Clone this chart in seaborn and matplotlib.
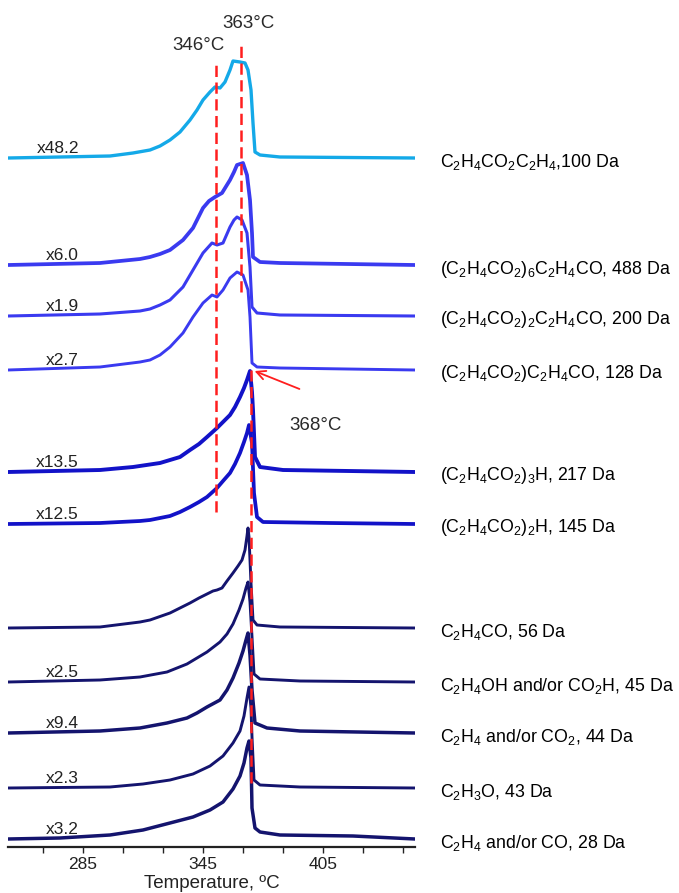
import matplotlib
matplotlib.use("Agg")
import matplotlib.pyplot as plt
import seaborn as sns
import pandas as pd

# ---------------- data ----------------
ion_labels = [
    r"C$_2$H$_4$CO$_2$C$_2$H$_4$,100 Da",
    r"(C$_2$H$_4$CO$_2$)$_6$C$_2$H$_4$CO, 488 Da",
    r"(C$_2$H$_4$CO$_2$)$_2$C$_2$H$_4$CO, 200 Da",
    r"(C$_2$H$_4$CO$_2$)C$_2$H$_4$CO, 128 Da",
    r"(C$_2$H$_4$CO$_2$)$_3$H, 217 Da",
    r"(C$_2$H$_4$CO$_2$)$_2$H, 145 Da",
    r"C$_2$H$_4$CO, 56 Da",
    r"C$_2$H$_4$OH and/or CO$_2$H, 45 Da",
    r"C$_2$H$_4$ and/or CO$_2$, 44 Da",
    r"C$_2$H$_3$O, 43 Da",
    r"C$_2$H$_4$ and/or CO, 28 Da",
]
multipliers = ["x48.2", "x6.0", "x1.9", "x2.7", "x13.5", "x12.5", "",
               "x2.5", "x9.4", "x2.3", "x3.2"]

temp_100 = [247.5, 273.5, 298.5, 310, 318.5, 323.5, 328.5, 333.5, 338.5, 342, 345, 348.5, 351, 353.5, 356, 358.5, 360, 363.5, 366, 367.5, 369, 370, 371, 373.5, 383.5, 451]
sig_100 = [0, 1, 2, 5, 8, 12, 18, 26, 38, 48, 58, 66, 71, 70, 76, 88, 97, 96, 95, 88, 68, 35, 6, 3, 1, 0]

temp_488 = [247.5, 293.5, 313.5, 318.5, 323.5, 328.5, 335, 340, 342.5, 345, 348, 351, 354.5, 358.5, 360.5, 362, 365, 367, 368.5, 369.5, 370, 373.5, 383.5, 451]
sig_488 = [0, 2, 6, 8, 11, 15, 25, 37, 47, 57, 64, 68, 72, 85, 93, 100, 102, 90, 65, 32, 8, 3, 2, 0]

temp_200 = [247.5, 293.5, 313.5, 318.5, 323.5, 328.5, 335, 340, 345, 349.5, 352, 355, 358.5, 360.5, 362, 364.5, 367, 368.5, 369.5, 372, 383.5, 451]
sig_200 = [0, 2, 5, 7, 11, 16, 29, 46, 63, 73, 71, 73, 89, 96, 99, 96, 83, 49, 9, 3, 1, 0]

temp_128 = [247.5, 293.5, 313.5, 318.5, 323.5, 328.5, 335, 340, 345, 349.5, 352, 355, 358.5, 362, 365, 367.5, 368.5, 369.5, 372, 383.5, 451]
sig_128 = [0, 3, 8, 10, 15, 23, 37, 53, 67, 75, 73, 80, 92, 98, 95, 80, 53, 7, 3, 2, 0]

temp_217 = [247.5, 293.5, 310, 323.5, 333.5, 338.5, 343, 347, 352, 355, 358.5, 361, 363.5, 365.5, 367, 368.5, 369.5, 370, 371, 373.5, 385, 451]
sig_217 = [0, 2, 5, 9, 15, 22, 28, 35, 44, 50, 57, 65, 75, 84, 92, 101, 80, 62, 15, 5, 2, 0]

temp_145 = [247.5, 293.5, 313.5, 318.5, 328.5, 333.5, 338.5, 343, 347, 352, 355, 358.5, 361, 363.5, 365.5, 367, 368, 369.5, 370.5, 372, 375, 408.5, 451]
sig_145 = [0, 1, 3, 4, 8, 12, 17, 22, 27, 36, 43, 51, 60, 71, 82, 91, 99, 81, 31, 7, 2, 1, 0]

temp_56 = [247.5, 293.5, 313.5, 318.5, 328.5, 338.5, 343, 347, 350, 352, 354.5, 357, 360, 362.5, 364.5, 366, 367, 367.5, 368, 369, 370, 372, 383.5, 451]
sig_56 = [0, 1, 6, 8, 15, 25, 30, 34, 37, 38, 40, 47, 55, 62, 68, 78, 92, 100, 91, 45, 8, 3, 1, 0]

temp_45 = [247.5, 293.5, 313.5, 327, 337, 342, 347, 353.5, 357, 360, 363, 365, 366.5, 367.5, 368.5, 369.5, 370.5, 373.5, 393.5, 451]
sig_45 = [0, 2, 5, 10, 18, 24, 30, 40, 48, 58, 72, 83, 94, 100, 80, 45, 8, 3, 1, 0]

temp_44 = [247.5, 293.5, 313.5, 327, 337, 342, 347, 353.5, 357, 360, 363, 365, 366.5, 367.5, 368.5, 369.5, 371, 377, 393.5, 451]
sig_44 = [0, 2, 5, 10, 15, 20, 26, 33, 43, 55, 70, 82, 93, 100, 78, 43, 10, 5, 2, 0]

temp_43 = [247.5, 298.5, 315, 328.5, 340, 348.5, 355, 360, 363.5, 365.5, 367, 368, 369, 369.5, 370.5, 373.5, 393.5, 451]
sig_43 = [0, 1, 4, 8, 14, 22, 32, 45, 57, 72, 90, 101, 80, 51, 8, 3, 1, 0]

temp_28 = [247.5, 273.5, 298.5, 315, 328.5, 340, 348.5, 355, 360, 363.5, 365.5, 367, 368, 369, 369.5, 371, 373.5, 383.5, 420, 451]
sig_28 = [0, 1, 4, 9, 16, 22, 29, 37, 50, 63, 76, 91, 98, 81, 31, 11, 7, 4, 3, 0]

peak_labels = ["346°C", "363°C", "368°C"]
peak_line_temps = [351.5, 364, 369]

x_ticks = [265, 285, 305, 325, 345, 365, 385, 405, 425, 445]
x_ticklabels = ["", "285", "", "", "345", "", "", "405", "", ""]

temps = [temp_100, temp_488, temp_200, temp_128, temp_217, temp_145,
         temp_56, temp_45, temp_44, temp_43, temp_28]
sigs = [sig_100, sig_488, sig_200, sig_128, sig_217, sig_145,
        sig_56, sig_45, sig_44, sig_43, sig_28]

# ---------------- layout / style ----------------
offsets = [689, 582, 531, 477, 375, 323, 219, 165, 114, 59, 8]
colors = ["#14A9E8", "#3A3AF0", "#3A3AF0", "#3A3AF0", "#1212C8", "#1212C8",
          "#14146E", "#14146E", "#14146E", "#14146E", "#14146E"]
widths = [2.4, 2.7, 2.2, 2.1, 2.8, 2.7, 2.1, 2.1, 2.5, 2.1, 2.5]

sns.set_theme(style="white")
plt.rcParams["font.family"] = ["Liberation Sans", "DejaVu Sans"]
plt.rcParams["mathtext.fontset"] = "custom"
plt.rcParams["mathtext.rm"] = "Liberation Sans"
plt.rcParams["mathtext.it"] = "Liberation Sans:italic"
plt.rcParams["mathtext.bf"] = "Liberation Sans:bold"
plt.rcParams["mathtext.default"] = "regular"

fig = plt.figure(figsize=(6.79, 8.93), dpi=100)
ax = fig.add_axes([8 / 679, 46 / 893, 407 / 679, 847 / 893])

rows = []
for i, (t, s) in enumerate(zip(temps, sigs)):
    for tt, ss in zip(t, s):
        rows.append({"T": tt, "y": ss + offsets[i], "ion": i})
df = pd.DataFrame(rows)

for i in range(len(temps)):
    sub = df[df["ion"] == i]
    sns.lineplot(data=sub, x="T", y="y", ax=ax, color=colors[i],
                 linewidth=widths[i], sort=False, estimator=None,
                 legend=False, solid_joinstyle="round", solid_capstyle="round")

# red dashed marker lines
red = "#FF1E1E"
dash = (0, (4.5, 2.2))
ax.plot([peak_line_temps[0]] * 2, [335, 784], color=red, lw=1.8, linestyle=dash, zorder=5)
ax.plot([peak_line_temps[1]] * 2, [555, 805], color=red, lw=1.8, linestyle=dash, zorder=5)
ax.plot([peak_line_temps[2]] * 2, [64, 477], color=red, lw=1.8, linestyle=dash, zorder=5)

txt_color = "#2a2a2a"
ax.text(342.5, 802, peak_labels[0], ha="center", va="center", fontsize=13.5, color=txt_color)
ax.text(367.5, 823, peak_labels[1], ha="center", va="center", fontsize=13.5, color=txt_color)
ax.text(401.5, 422, peak_labels[2], ha="center", va="center", fontsize=13.5, color=txt_color)
ax.annotate("", xy=(369.5, 477), xytext=(394.5, 457),
            arrowprops=dict(arrowstyle="->", color=red, lw=1.3, mutation_scale=16))

# labels
for i in range(len(temps)):
    ax.text(463.5, offsets[i] - 4, ion_labels[i], ha="left", va="center",
            fontsize=12.8, color="black", clip_on=False)
    if multipliers[i]:
        ax.text(283, offsets[i] + 2, multipliers[i], ha="right", va="bottom",
                fontsize=12.5, color="#222222")

ax.set_xlim(247.5, 451)
ax.set_ylim(0, 847)
ax.set_yticks([])
ax.set_ylabel("")
ax.set_xticks(x_ticks)
ax.set_xticklabels(x_ticklabels)
ax.tick_params(axis="x", direction="out", length=4, width=1, labelsize=12.5,
               bottom=True, pad=3, colors="#222222")
for side in ["left", "right", "top"]:
    ax.spines[side].set_visible(False)
ax.spines["bottom"].set_linewidth(1.6)
ax.spines["bottom"].set_color("#222222")
ax.set_xlabel("Temperature, ºC", fontsize=13.5, labelpad=2, color="#222222")
ax.patch.set_alpha(0)

fig.savefig("out.png", dpi=100)
